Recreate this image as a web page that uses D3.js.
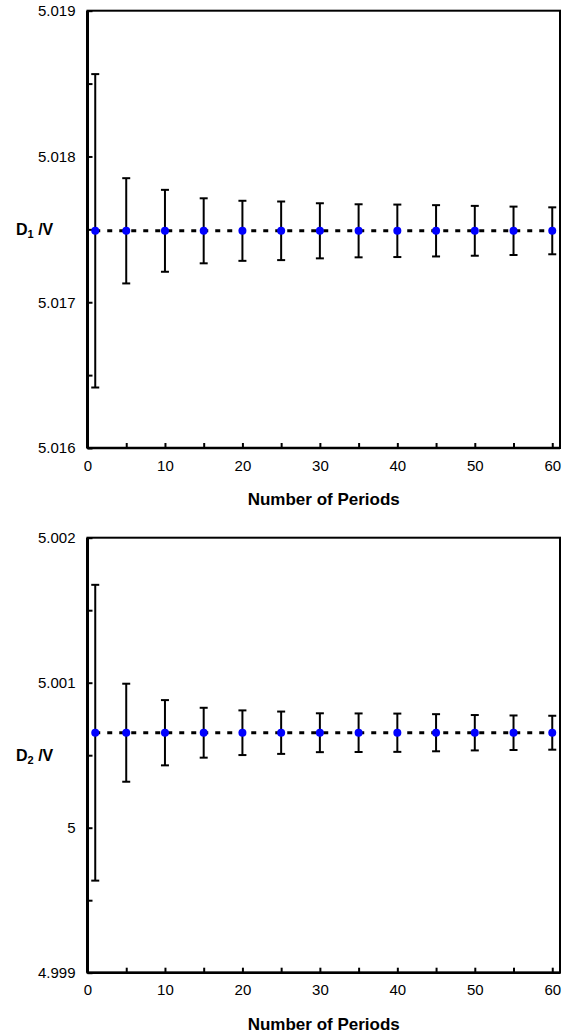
<!DOCTYPE html>
<html>
<head>
<meta charset="utf-8">
<script src="https://cdn.jsdelivr.net/npm/d3@7"></script>
<style>
  body { margin: 0; background: #fff; }
  text { font-family: "Liberation Sans", Arial, sans-serif; }
</style>
</head>
<body>
<div id="chart"></div>
<script>
var periods = [1, 5, 10, 15, 20, 25, 30, 35, 40, 45, 50, 55, 60];
var d1Mean = [5.01749, 5.01749, 5.01749, 5.01749, 5.01749, 5.01749, 5.01749, 5.01749, 5.01749, 5.01749, 5.01749, 5.01749, 5.01749];
var d1Err = [0.001075, 0.000361, 0.000281, 0.000223, 0.000206, 0.000201, 0.000189, 0.000182, 0.000180, 0.000176, 0.000171, 0.000166, 0.000161];
var d2Mean = [5.000655, 5.000655, 5.000655, 5.000655, 5.000655, 5.000655, 5.000655, 5.000655, 5.000655, 5.000655, 5.000655, 5.000655, 5.000655];
var d2Err = [0.00102, 0.000338, 0.000225, 0.000172, 0.000154, 0.000146, 0.000134, 0.000133, 0.000132, 0.000128, 0.000122, 0.000119, 0.000117];
var xTicks = [0, 5, 10, 15, 20, 25, 30, 35, 40, 45, 50, 55, 60];
var d1Ticks = [5.016, 5.0165, 5.017, 5.0175, 5.018, 5.0185, 5.019];
var d2Ticks = [4.999, 4.9995, 5, 5.0005, 5.001, 5.0015, 5.002];

var svg = d3.select('#chart').append('svg')
    .attr('width', 584)
    .attr('height', 1035);

function panel(top, bottom, yDomain, yTicks, means, errs, sub) {
    var x = d3.scaleLinear().domain([0, 61]).range([87.5, 560]);
    var y = d3.scaleLinear().domain(yDomain).range([bottom, top]);
    var g = svg.append('g');
    var data = periods.map(function (p, i) {
        return { p: p, m: means[i], e: errs[i] };
    });

    // x axis, ticks inside
    var xa = g.append('g')
        .attr('transform', 'translate(0,' + bottom + ')')
        .call(d3.axisBottom(x).tickValues(xTicks).tickSize(-5).tickPadding(12)
            .tickFormat(function (d) { return d % 10 == 0 ? d : ''; }));
    xa.selectAll('text').attr('font-size', '15px').attr('fill', '#000')
        .attr('dy', '0.71em');
    xa.selectAll('line').attr('stroke-width', 2);
    xa.select('.domain').remove();

    // y axis
    var ya = g.append('g')
        .attr('transform', 'translate(87.5,0)')
        .call(d3.axisLeft(y).tickValues(yTicks).tickSize(-5).tickPadding(12)
            .tickFormat(function (d) {
                return Math.abs(d * 1000 - Math.round(d * 1000)) < 1e-6 ? String(+d.toFixed(3)) : '';
            }));
    ya.selectAll('text').attr('font-size', '15px').attr('fill', '#000');
    ya.selectAll('line').attr('stroke-width', 2);
    ya.select('.domain').remove();

    // frame
    g.append('rect')
        .attr('x', 87.5).attr('y', top)
        .attr('width', 560 - 87.5).attr('height', bottom - top)
        .attr('fill', 'none').attr('stroke', '#000').attr('stroke-width', 2);
    g.append('line')
        .attr('x1', 87.5).attr('x2', 87.5).attr('y1', top).attr('y2', bottom)
        .attr('stroke', '#000').attr('stroke-width', 3);
    g.append('line')
        .attr('x1', 87.5).attr('x2', 560).attr('y1', bottom).attr('y2', bottom)
        .attr('stroke', '#000').attr('stroke-width', 2.5);

    // dashed line
    var line = d3.line().x(function (d) { return x(d.p); }).y(function (d) { return y(d.m); });
    g.append('path')
        .datum(data)
        .attr('d', line)
        .attr('fill', 'none')
        .attr('stroke', '#000')
        .attr('stroke-width', 3)
        .attr('stroke-dasharray', '5,7');

    // error bars
    var eb = g.selectAll('.eb').data(data).enter().append('g').attr('class', 'eb');
    eb.append('line')
        .attr('x1', function (d) { return x(d.p); })
        .attr('x2', function (d) { return x(d.p); })
        .attr('y1', function (d) { return y(d.m + d.e); })
        .attr('y2', function (d) { return y(d.m - d.e); })
        .attr('stroke', '#000').attr('stroke-width', 2);
    [1, -1].forEach(function (s) {
        eb.append('line')
            .attr('x1', function (d) { return x(d.p) - 4; })
            .attr('x2', function (d) { return x(d.p) + 4; })
            .attr('y1', function (d) { return y(d.m + s * d.e); })
            .attr('y2', function (d) { return y(d.m + s * d.e); })
            .attr('stroke', '#000').attr('stroke-width', 2);
    });

    // points
    g.selectAll('.pt').data(data).enter().append('circle')
        .attr('class', 'pt')
        .attr('cx', function (d) { return x(d.p); })
        .attr('cy', function (d) { return y(d.m); })
        .attr('r', 4)
        .attr('fill', '#0000ff');

    // y label
    var yl = g.append('text')
        .attr('x', 16)
        .attr('y', (top + bottom) / 2 + 6)
        .attr('font-size', '16px')
        .attr('font-weight', 'bold');
    yl.append('tspan').text('D');
    yl.append('tspan').attr('font-size', '11px').attr('dy', 3).text(sub);
    yl.append('tspan').attr('dy', -3).text(' /V');

    // x label
    g.append('text')
        .attr('x', (87.5 + 560) / 2)
        .attr('y', bottom + 57)
        .attr('text-anchor', 'middle')
        .attr('font-size', '17px')
        .attr('font-weight', 'bold')
        .text('Number of Periods');
}

panel(10.7, 448, [5.016, 5.019], d1Ticks, d1Mean, d1Err, '1');
panel(537.7, 972.7, [4.999, 5.002], d2Ticks, d2Mean, d2Err, '2');
</script>
</body>
</html>
